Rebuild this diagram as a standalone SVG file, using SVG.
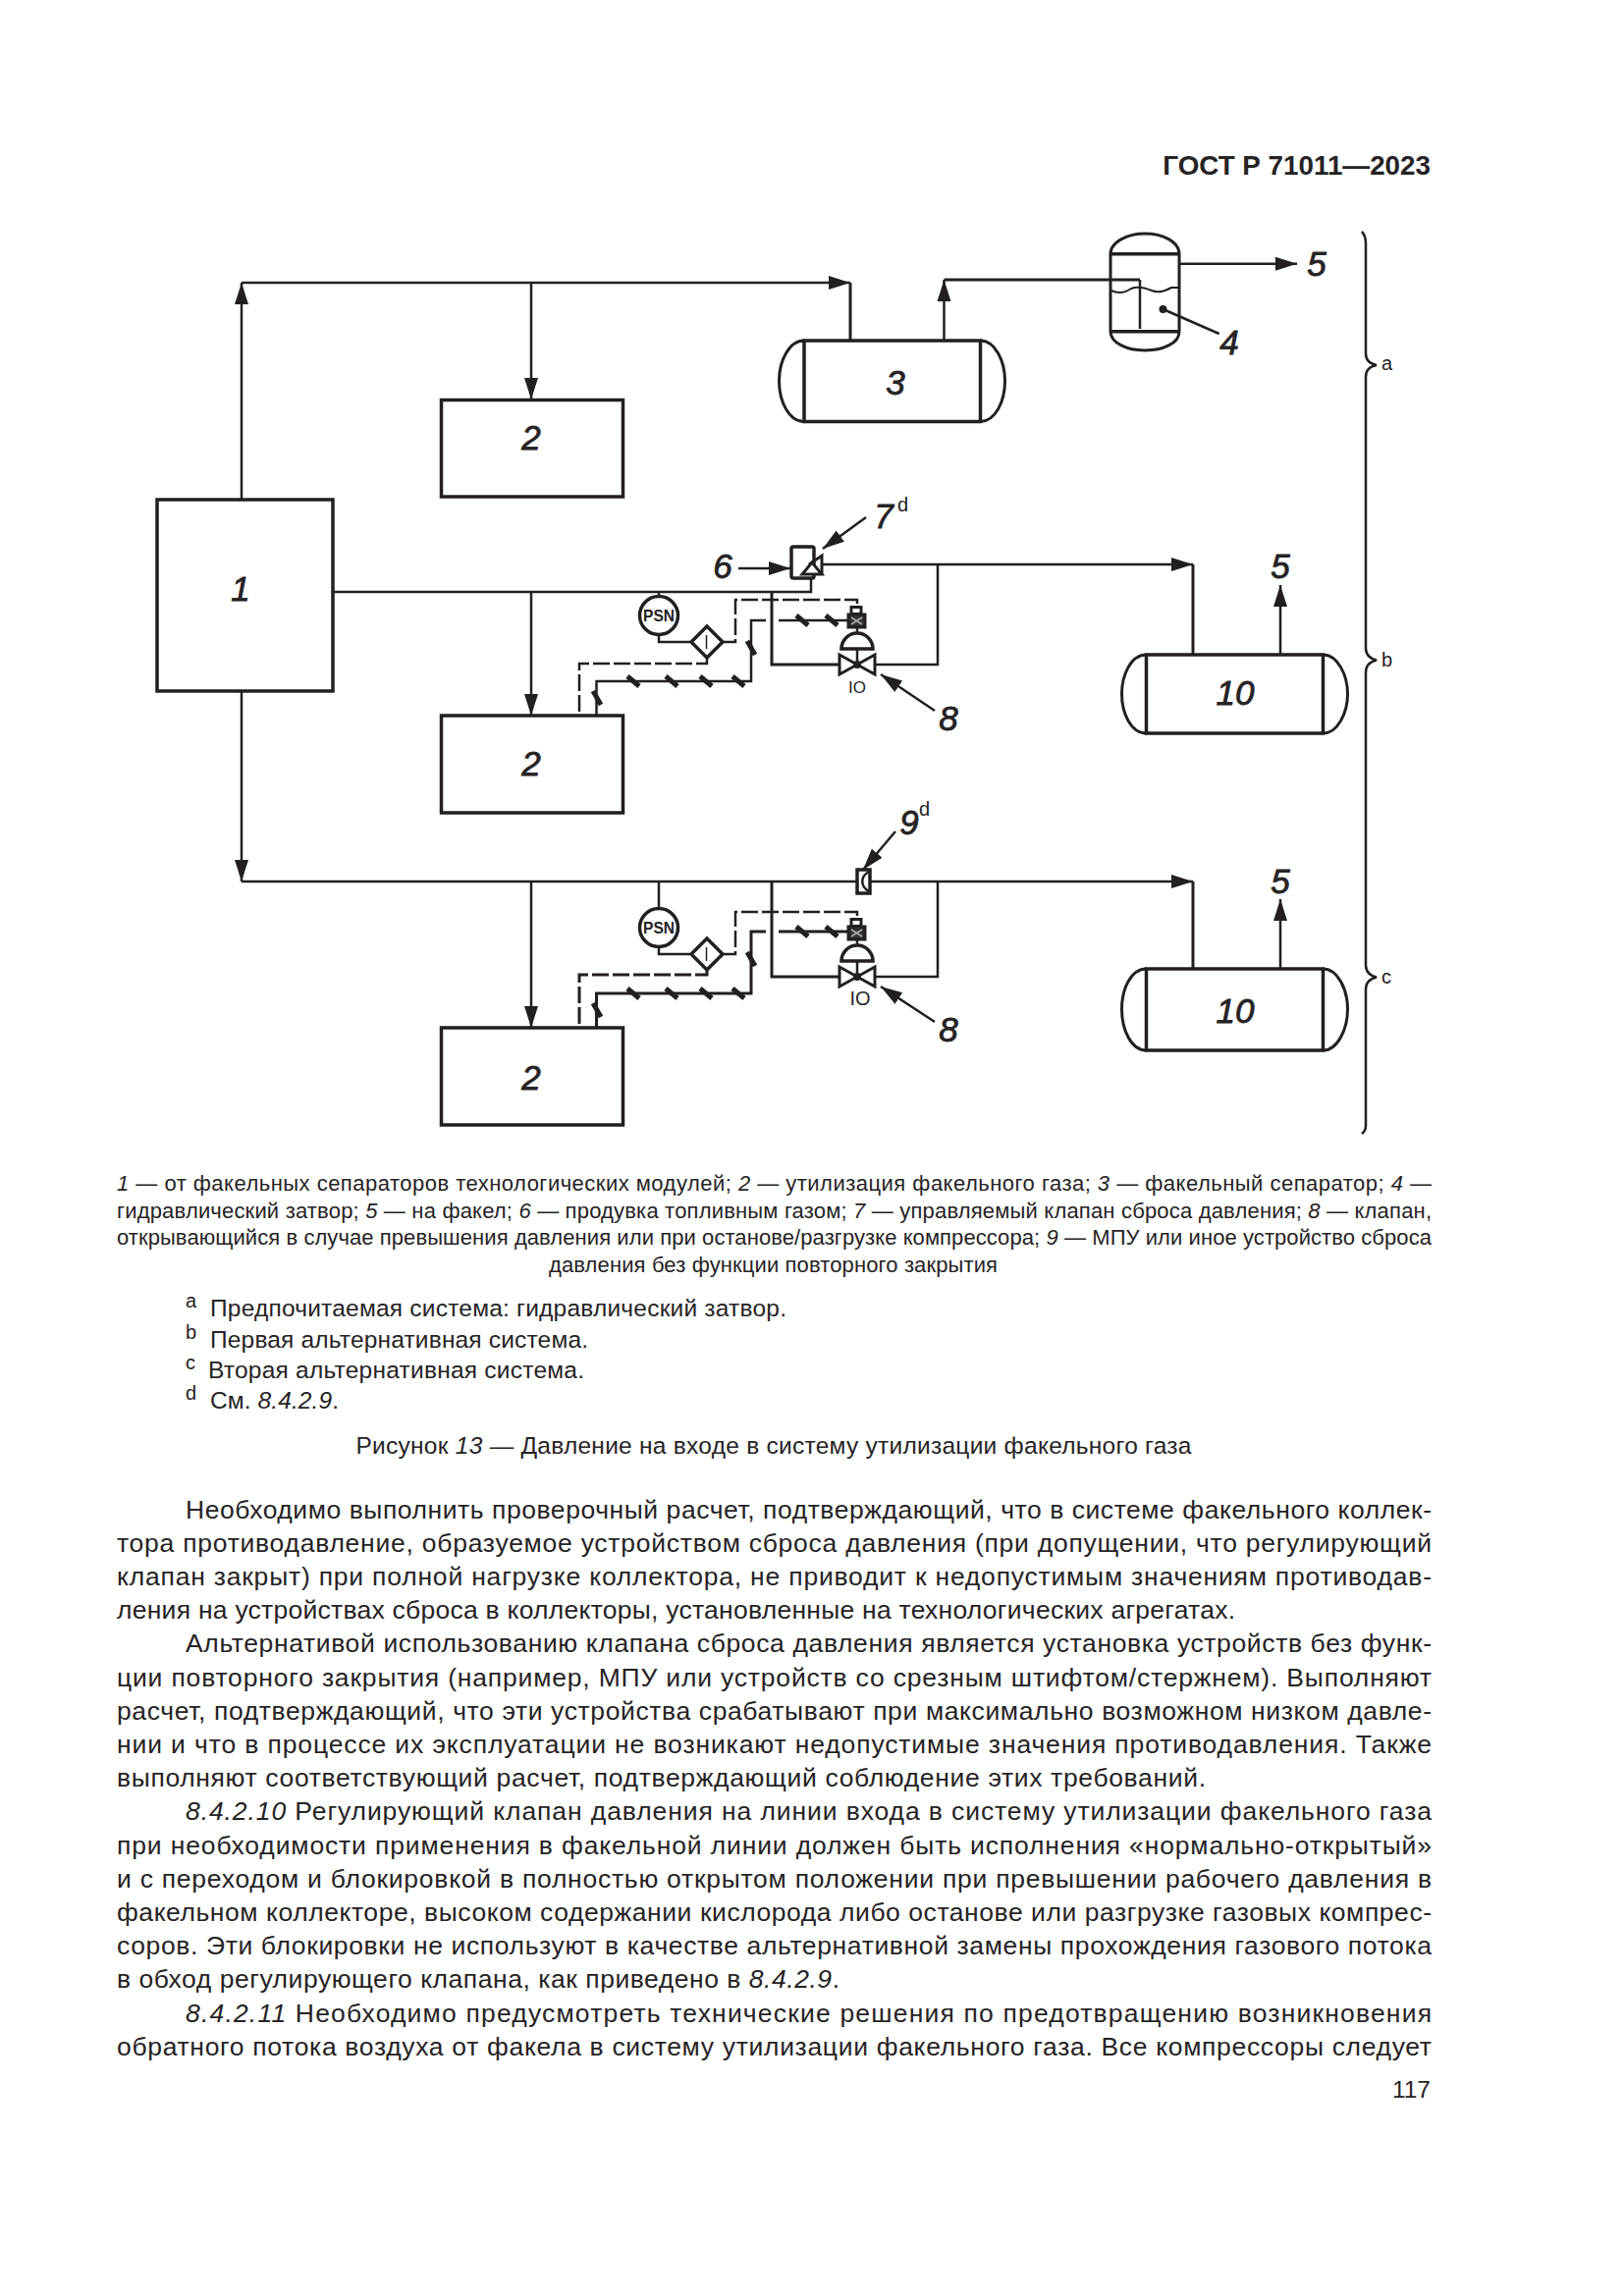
<svg xmlns="http://www.w3.org/2000/svg" xmlns:xlink="http://www.w3.org/1999/xlink" width="1654" height="2339" viewBox="0 0 1654 2339">
<style>
text{font-family:"Liberation Sans",Arial,sans-serif;fill:#262324}
.l,.h,.t,.d,.b,.n,.m{fill:none;stroke:#231f20;stroke-linecap:butt;stroke-linejoin:miter}
.l{stroke-width:2.5}
.t{stroke-width:3.5}
.h{stroke-width:3}
.d{stroke-width:2.5;stroke-dasharray:17 4}
.b{stroke-width:3.5;fill:#fff}
.n{stroke-width:2.5}
.m{stroke-width:5}
.lab{font-size:35px;font-style:italic;text-anchor:middle;stroke:#262324;stroke-width:.8}
.sup{font-size:20px}
.cap{font-size:22px}
.note{font-size:24.5px}
.body{font-size:26.5px}
.f{fill:#231f20;stroke:none}
</style>
<defs>
<marker id="arr" markerUnits="userSpaceOnUse" markerWidth="24" markerHeight="16" refX="22" refY="8" orient="auto"><path d="M0,1 L22,8 L0,15 z" fill="#231f20"/></marker>
<path id="hatch" class="m" d="M-6,-5 L6,5"/>
<path id="vhatch" class="m" d="M-4,-7 L4,7"/>
</defs>
<rect width="1654" height="2339" fill="#fff"/>

<text x="1457" y="178" text-anchor="end" font-size="27.800" font-weight="bold">ГОСТ Р 71011—2023</text>

<g id="connectors">
<path class="l" marker-end="url(#arr)" d="M246,509 V288"/>
<path class="l" marker-end="url(#arr)" d="M246,288 H866"/>
<path class="h" d="M866,288 V347"/>
<path class="l" marker-end="url(#arr)" d="M541,288 V407"/>
<path class="l" marker-end="url(#arr)" d="M961.5,347 V285"/>
<path class="h" d="M961.5,285 H1161"/>
<path class="l" d="M1161,285 V335"/>
<path class="l" marker-end="url(#arr)" d="M1201,268.7 H1321"/>
<path class="l" d="M339,603 H826 V590"/>
<path class="l" marker-end="url(#arr)" d="M541,603 V729"/>
<path class="l" marker-end="url(#arr)" d="M837,575 H1215"/>
<path class="h" d="M1215,575 V667"/>
<path class="l" marker-end="url(#arr)" d="M1304,667 V596"/>
<path class="l" d="M955,575 V677 H892"/>
<path class="h" d="M786,603 V677 H855"/>
<path class="l" marker-end="url(#arr)" d="M246,704 V898"/>
<path class="l" marker-end="url(#arr)" d="M246,898 H1215"/>
<path class="h" d="M1215,898 V987"/>
<path class="l" marker-end="url(#arr)" d="M1304,987 V916"/>
<path class="l" marker-end="url(#arr)" d="M541,898 V1047"/>
<path class="l" d="M955,898 V995 H892"/>
<path class="h" d="M786,898 V995 H855"/>
<!-- upper instrument lines -->
<path class="l" d="M671,603 V608"/>
<path class="l" d="M671,647 V654 H703"/>
<path class="d" d="M735,654 H749 V611 H873 V619"/>
<path class="d" d="M720,670 V676 H590 V729"/>
<path class="l" d="M607.5,729 V694 H765 V632 H780 M793,632 H863"/>
<use href="#hatch" x="645" y="694"/><use href="#hatch" x="684" y="694"/><use href="#hatch" x="719" y="694"/><use href="#hatch" x="752" y="694"/>
<use href="#vhatch" x="608" y="711"/><use href="#vhatch" x="765" y="660"/>
<use href="#hatch" x="817" y="632"/><use href="#hatch" x="847" y="632"/>
<!-- lower instrument lines -->
<path class="l" d="M671,898 V926"/>
<path class="l" d="M671,964 V972 H703"/>
<path class="d" d="M735,972 H749 V929 H873 V937"/>
<path class="d" style="stroke-width:3" d="M720,988 V993 H590 V1047"/>
<path class="h" d="M607.5,1047 V1012 H765 V949 H780 M793,949 H863"/>
<use href="#hatch" x="645" y="1012"/><use href="#hatch" x="684" y="1012"/><use href="#hatch" x="719" y="1012"/><use href="#hatch" x="752" y="1012"/>
<use href="#vhatch" x="608" y="1029"/><use href="#vhatch" x="765" y="977"/>
<use href="#hatch" x="817" y="949"/><use href="#hatch" x="847" y="949"/>
<!-- leaders -->
<path class="l" marker-end="url(#arr)" d="M752,579 H805"/>
<path class="l" marker-end="url(#arr)" d="M882,527 L838,559"/>
<path class="l" marker-end="url(#arr)" d="M952,724 L897,687"/>
<path class="l" marker-end="url(#arr)" d="M952,1041 L897,1005"/>
<path class="l" marker-end="url(#arr)" d="M912,847 L879,886"/>
<path class="l" d="M1184.5,315 L1241.7,340"/>
<circle class="f" cx="1184.5" cy="315" r="4"/>
</g>

<g id="node-1"><rect class="b" x="160" y="509" width="179" height="195"/><text class="lab" x="245" y="612">1</text></g>
<g id="node-2a"><rect class="b" x="449.500" y="407.500" width="185" height="98.500"/><text class="lab" x="541" y="458">2</text></g>
<g id="node-2b"><rect class="b" x="449.500" y="729" width="185" height="99"/><text class="lab" x="541" y="790">2</text></g>
<g id="node-2c"><rect class="b" x="449.500" y="1047" width="185" height="99"/><text class="lab" x="541" y="1110">2</text></g>

<g id="node-3">
<path class="t" d="M819,347 H998.500 V429.500 H819 Z"/>
<path class="h" d="M819,347 C803.500,347 793.500,368 793.500,388 C793.500,409 803.500,429.500 819,429.500 M998.500,347 C1013.500,347 1023.500,368 1023.500,388 C1023.500,409 1013.500,429.500 998.500,429.500"/>
<text class="lab" x="912" y="402">3</text>
</g>

<g id="node-4">
<path class="h" d="M1131,258.700 V337.700 M1201,258.700 V337.700 M1131,258.700 C1131,246 1149,238 1166,238 C1184,238 1201,246 1201,258.700 M1131,337.700 C1131,350 1149,357 1166,357 C1184,357 1201,350 1201,337.700"/>
<path class="t" d="M1131,258.700 H1201 M1131,337.700 H1201"/>
<path class="n" style="stroke-width:2" d="M1132,296 C1140,300 1146,298 1152,294 C1159,291 1166,293 1173,296 C1181,299 1187,296 1193,293 L1201,293"/>
<text class="lab" x="1252" y="361">4</text>
</g>
<g id="label-5a"><text class="lab" x="1341" y="281">5</text></g>

<g id="node-6-7">
<rect class="b" x="806" y="557" width="23" height="32" rx="2"/>
<path class="n" style="fill:#fff;stroke-width:3" d="M817,585 L827,573 L837,585 Z"/>
<path class="n" style="stroke-width:3" d="M824,575 L837,566 V585"/>
<text class="lab" x="736" y="589">6</text>
<text class="lab" x="900" y="538">7</text><text class="sup" x="914" y="521">d</text>
</g>

<g id="psn-a"><circle class="b" cx="671" cy="627" r="19.500"/><text x="671" y="633" font-size="17" font-weight="bold" text-anchor="middle" textLength="32" lengthAdjust="spacingAndGlyphs">PSN</text></g>
<g id="diamond-a"><path class="b" d="M720,638 L736,654 L720,670 L704,654 Z"/><path class="n" style="stroke-width:1.500" d="M719.500,647 V661"/></g>
<g id="valve-8a">
<path class="h" d="M855,667 L891,687 V667 L855,687 Z"/>
<circle class="f" cx="873" cy="677" r="4"/>
<path class="l" d="M873,677 V661"/>
<path class="t" style="fill:#fff" d="M857,661 A16,16 0 0 1 889,661 Z"/>
<path class="l" d="M873,645 V640"/>
<rect class="n" style="fill:#fff;stroke-width:3" x="867" y="618.500" width="10" height="7"/>
<rect class="n" style="fill:#333;stroke-width:3" x="864" y="626" width="17" height="13"/>
<path class="n" style="stroke-width:1.500;stroke:#aaa" d="M867,629 L878,636 M878,629 L867,636"/>
<text x="873" y="706" font-size="17" text-anchor="middle">IO</text>
<text class="lab" x="966" y="744">8</text>
</g>
<g id="node-10a">
<path class="t" d="M1167.500,667 H1347.500 V747 H1167.500 Z"/>
<path class="h" d="M1167.500,667 C1151.500,667 1142.500,688 1142.500,707 C1142.500,726 1151.500,747 1167.500,747 M1347.500,667 C1362.500,667 1372.500,688 1372.500,707 C1372.500,726 1362.500,747 1347.500,747"/>
<text class="lab" x="1258" y="718">10</text>
</g>
<g id="label-5b"><text class="lab" x="1304" y="589">5</text></g>

<g id="node-9">
<rect class="n" style="fill:#fff;stroke-width:3.500" x="873" y="886" width="13" height="24"/>
<path class="n" style="stroke-width:2.500" d="M885,888 C876,893 876,903 885,908"/>
<text class="lab" x="926" y="850">9</text><text class="sup" x="936" y="831">d</text>
</g>
<g id="psn-b"><circle class="b" cx="671" cy="945" r="19.500"/><text x="671" y="951" font-size="17" font-weight="bold" text-anchor="middle" textLength="32" lengthAdjust="spacingAndGlyphs">PSN</text></g>
<g id="diamond-b"><path class="b" d="M720,956 L736,972 L720,988 L704,972 Z"/><path class="n" style="stroke-width:1.500" d="M719.500,965 V979"/></g>
<g id="valve-8b">
<path class="h" d="M855,985 L891,1005 V985 L855,1005 Z"/>
<circle class="f" cx="873" cy="995" r="4"/>
<path class="l" d="M873,995 V979"/>
<path class="t" style="fill:#fff" d="M857,979 A16,16 0 0 1 889,979 Z"/>
<path class="l" d="M873,963 V957"/>
<rect class="n" style="fill:#fff;stroke-width:3" x="867" y="936.500" width="10" height="7"/>
<rect class="n" style="fill:#333;stroke-width:3" x="864" y="944" width="17" height="13"/>
<path class="n" style="stroke-width:1.500;stroke:#aaa" d="M867,947 L878,954 M878,947 L867,954"/>
<text x="876" y="1024" font-size="20" text-anchor="middle">IO</text>
<text class="lab" x="966" y="1061">8</text>
</g>
<g id="node-10b">
<path class="t" d="M1167.500,987 H1347.500 V1070 H1167.500 Z"/>
<path class="h" d="M1167.500,987 C1151.500,987 1142.500,1008 1142.500,1028 C1142.500,1048 1151.500,1070 1167.500,1070 M1347.500,987 C1362.500,987 1372.500,1008 1372.500,1028 C1372.500,1048 1362.500,1070 1347.500,1070"/>
<text class="lab" x="1258" y="1042">10</text>
</g>
<g id="label-5c"><text class="lab" x="1304" y="910">5</text></g>

<g id="brackets">
<path class="l" d="M1387,236 Q1391,240 1391,248 V360 Q1391,370 1402,372 Q1391,374 1391,384 V660 Q1391,670 1402,672.500 Q1391,675 1391,685 V983 Q1391,993 1402,995.500 Q1391,998 1391,1008 V1147 Q1391,1152 1387,1155"/>
<text class="sup" x="1407" y="377">a</text>
<text class="sup" x="1407" y="679">b</text>
<text class="sup" x="1407" y="1002">c</text>
</g>

<g id="legend" class="cap">
<text class="cap" x="119" y="1213" textLength="1339"><tspan font-style="italic">1</tspan> — от факельных сепараторов технологических модулей; <tspan font-style="italic">2</tspan> — утилизация факельного газа; <tspan font-style="italic">3</tspan> — факельный сепаратор; <tspan font-style="italic">4</tspan> —</text>
<text class="cap" x="119" y="1241" textLength="1339">гидравлический затвор; <tspan font-style="italic">5</tspan> — на факел; <tspan font-style="italic">6</tspan> — продувка топливным газом; <tspan font-style="italic">7</tspan> — управляемый клапан сброса давления; <tspan font-style="italic">8</tspan> — клапан,</text>
<text class="cap" x="119" y="1268" textLength="1339">открывающийся в случае превышения давления или при останове/разгрузке компрессора; <tspan font-style="italic">9</tspan> — МПУ или иное устройство сброса</text>
<text class="cap" x="559" y="1296" textLength="457">давления без функции повторного закрытия</text>
</g>

<g id="notes">
<text class="sup" x="189" y="1332">a</text><text class="note" x="214" y="1341" textLength="587">Предпочитаемая система: гидравлический затвор.</text>
<text class="sup" x="189" y="1364">b</text><text class="note" x="214" y="1373" textLength="385">Первая альтернативная система.</text>
<text class="sup" x="189" y="1395">c</text><text class="note" x="212" y="1404" textLength="383">Вторая альтернативная система.</text>
<text class="sup" x="189" y="1426">d</text><text class="note" x="214" y="1435" textLength="131">См. <tspan font-style="italic">8.4.2.9</tspan>.</text>
<text class="note" x="362.500" y="1481" textLength="851">Рисунок <tspan font-style="italic">13</tspan> — Давление на входе в систему утилизации факельного газа</text>
</g>

<g id="body">
<text class="body" x="189" y="1546.500" textLength="1269">Необходимо выполнить проверочный расчет, подтверждающий, что в системе факельного коллек-</text>
<text class="body" x="119" y="1580.700" textLength="1339">тора противодавление, образуемое устройством сброса давления (при допущении, что регулирующий</text>
<text class="body" x="119" y="1614.900" textLength="1339">клапан закрыт) при полной нагрузке коллектора, не приводит к недопустимым значениям противодав-</text>
<text class="body" x="119" y="1649.100" textLength="1139">ления на устройствах сброса в коллекторы, установленные на технологических агрегатах.</text>
<text class="body" x="189" y="1683.300" textLength="1269">Альтернативой использованию клапана сброса давления является установка устройств без функ-</text>
<text class="body" x="119" y="1717.500" textLength="1339">ции повторного закрытия (например, МПУ или устройств со срезным штифтом/стержнем). Выполняют</text>
<text class="body" x="119" y="1751.700" textLength="1339">расчет, подтверждающий, что эти устройства срабатывают при максимально возможном низком давле-</text>
<text class="body" x="119" y="1785.900" textLength="1339">нии и что в процессе их эксплуатации не возникают недопустимые значения противодавления. Также</text>
<text class="body" x="119" y="1820.100" textLength="1109">выполняют соответствующий расчет, подтверждающий соблюдение этих требований.</text>
<text class="body" x="189" y="1854.300" textLength="1269"><tspan font-style="italic">8.4.2.10</tspan> Регулирующий клапан давления на линии входа в систему утилизации факельного газа</text>
<text class="body" x="119" y="1888.500" textLength="1339">при необходимости применения в факельной линии должен быть исполнения «нормально-открытый»</text>
<text class="body" x="119" y="1922.700" textLength="1339">и с переходом и блокировкой в полностью открытом положении при превышении рабочего давления в</text>
<text class="body" x="119" y="1956.900" textLength="1339">факельном коллекторе, высоком содержании кислорода либо останове или разгрузке газовых компрес-</text>
<text class="body" x="119" y="1991.100" textLength="1339">соров. Эти блокировки не используют в качестве альтернативной замены прохождения газового потока</text>
<text class="body" x="119" y="2025.300" textLength="736">в обход регулирующего клапана, как приведено в <tspan font-style="italic">8.4.2.9</tspan>.</text>
<text class="body" x="189" y="2059.500" textLength="1269"><tspan font-style="italic">8.4.2.11</tspan> Необходимо предусмотреть технические решения по предотвращению возникновения</text>
<text class="body" x="119" y="2093.700" textLength="1339">обратного потока воздуха от факела в систему утилизации факельного газа. Все компрессоры следует</text>
<text class="note" x="1457" y="2137" text-anchor="end">117</text>
</g>
</svg>
